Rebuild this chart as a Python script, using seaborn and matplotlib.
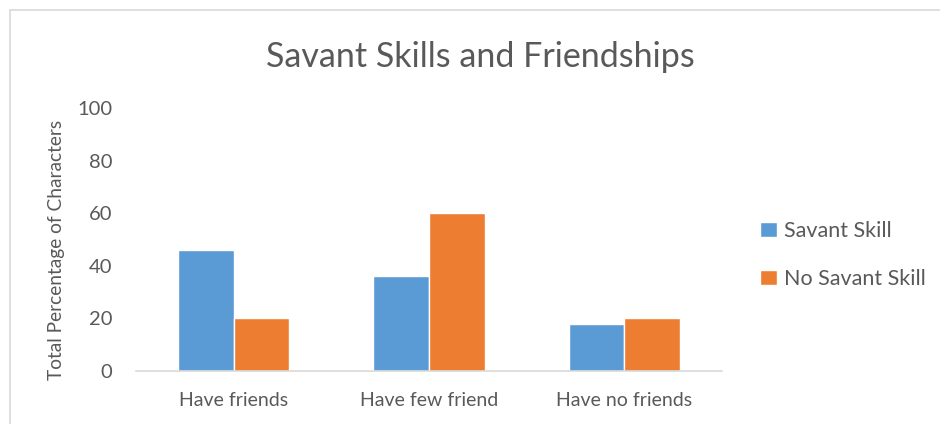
import matplotlib
matplotlib.use("Agg")
import matplotlib.pyplot as plt
from matplotlib.patches import Rectangle
import seaborn as sns
import pandas as pd

categories = ["Have friends", "Have few friend", "Have no friends"]
savant_skill = [46, 36, 18]
no_savant_skill = [20, 60, 20]
series_names = ["Savant Skill", "No Savant Skill"]
y_ticks = [0, 20, 40, 60, 80, 100]

df = pd.DataFrame({
    "category": categories * 2,
    "value": savant_skill + no_savant_skill,
    "series": [series_names[0]] * 3 + [series_names[1]] * 3,
})

sns.set_theme(style="white")
plt.rcParams["font.family"] = ["Lato", "DejaVu Sans"]

text_color = "#595959"
palette = {series_names[0]: "#5B9BD5", series_names[1]: "#ED7D31"}

fig = plt.figure(figsize=(9.4, 4.24), dpi=100)
ax = fig.add_axes([136 / 940, 1 - 371 / 424, (722 - 136) / 940, (371 - 108) / 424])

# chart frame
fig.patches.append(Rectangle((10 / 940, -0.1), 1.2, 1 - 10 / 424 + 0.1,
                             transform=fig.transFigure, fill=False,
                             edgecolor="#D9D9D9", linewidth=1.2))

sns.barplot(data=df, x="category", y="value", hue="series", palette=palette,
            width=0.57, ax=ax, saturation=1, legend=True)

ax.set_ylim(0, 100)
ax.set_yticks(y_ticks)
ax.set_xlim(-0.5, 2.5)
ax.tick_params(axis="y", colors=text_color, labelsize=14.5, length=0, pad=17)
ax.tick_params(axis="x", colors=text_color, labelsize=14, length=0, pad=15)
for lbl in ax.get_xticklabels() + ax.get_yticklabels():
    lbl.set_color(text_color)
ax.set_xlabel("")
ax.set_ylabel("Total Percentage of Characters", fontsize=13.8, color=text_color)
ax.yaxis.set_label_coords(-0.121, 0.46)
for side in ["top", "right", "left"]:
    ax.spines[side].set_visible(False)
ax.spines["bottom"].set_color("#D9D9D9")
ax.spines["bottom"].set_linewidth(1.2)

fig.text(480 / 940, 1 - 57 / 424, "Savant Skills and Friendships", ha="center",
         va="center", fontsize=24.5, color=text_color)

leg = ax.legend(loc="center left", bbox_to_anchor=(741 / 940, 1 - 255 / 424),
                bbox_transform=fig.transFigure, frameon=False, fontsize=15.5,
                handlelength=0.75, handleheight=0.75, handletextpad=0.35,
                labelspacing=1.3, labelcolor=text_color)

fig.savefig("out.png", dpi=100)
